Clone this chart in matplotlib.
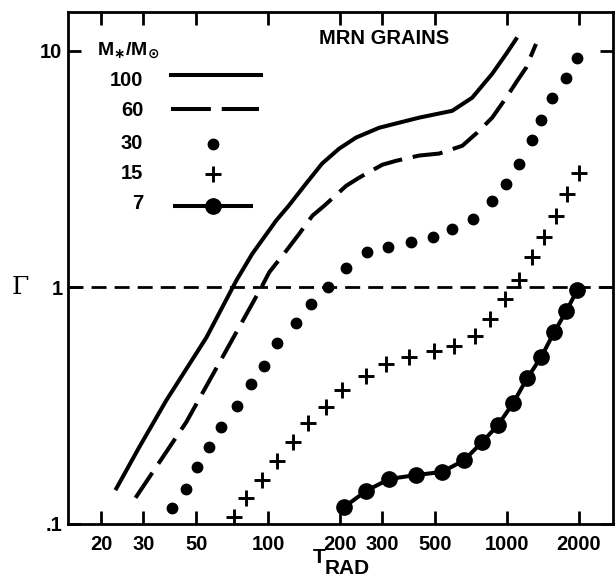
import matplotlib
matplotlib.use('Agg')
import matplotlib.pyplot as plt

# M = 100 (solid line)
t100 = [22.9, 28.8, 37.4, 55.1, 73.5, 85.8, 108, 122, 144, 168, 198, 233, 291,
        353, 428, 589, 714, 866, 991, 1102]
g100 = [0.139, 0.211, 0.333, 0.615, 1.07, 1.39, 1.92, 2.22, 2.75, 3.34, 3.86, 4.30,
        4.73, 4.97, 5.22, 5.58, 6.34, 8.0, 9.71, 11.4]

# M = 60 (long dashes)
t60 = [27.8, 45.4, 93.5, 101, 119, 135, 153, 172, 212, 240, 300, 343, 428, 519,
       649, 749, 866, 991, 1102, 1200, 1321]
g60 = [0.129, 0.27, 1.0, 1.16, 1.43, 1.69, 2.01, 2.22, 2.69, 2.91, 3.30, 3.43,
       3.61, 3.68, 3.97, 4.51, 5.22, 6.34, 7.47, 8.48, 10.7]

# M = 30 (dots)
t30 = [39.6, 45.4, 50.5, 56.6, 63.5, 74.1, 84.9, 96.2, 109, 130, 151, 178, 212,
       259, 318, 397, 490, 588, 721, 866, 991, 1122, 1273, 1388, 1542, 1766, 1963]
g30 = [0.117, 0.141, 0.174, 0.211, 0.257, 0.315, 0.390, 0.464, 0.580, 0.705, 0.848,
       1.0, 1.21, 1.41, 1.48, 1.55, 1.64, 1.76, 1.95, 2.31, 2.75, 3.34, 4.21, 5.11,
       6.34, 7.69, 9.34]

# M = 15 (plus signs)
t15 = [72.1, 80.9, 94.4, 109, 127, 146, 175, 204, 257, 312, 389, 495, 600, 735,
       849, 981, 1122, 1273, 1429, 1603, 1783, 2000]
g15 = [0.107, 0.129, 0.153, 0.184, 0.222, 0.267, 0.312, 0.367, 0.421, 0.473, 0.507,
       0.537, 0.564, 0.621, 0.733, 0.890, 1.08, 1.34, 1.64, 2.01, 2.49, 3.06]

# M = 7 (big dots joined by a line)
t7 = [208, 257, 321, 416, 534, 661, 786, 916, 1059, 1213, 1388, 1573, 1766, 1963]
g7 = [0.118, 0.138, 0.155, 0.161, 0.166, 0.186, 0.222, 0.262, 0.324, 0.413, 0.507,
      0.646, 0.792, 0.971]

xticks = [20, 30, 50, 100, 200, 300, 500, 1000, 2000]
yticks = [0.1, 1, 10]
ylabels = ['.1', '1', '10']
legend_masses = ['100', '60', '30', '15', '7']

plt.rcParams['font.family'] = ['Liberation Sans', 'DejaVu Sans']
plt.rcParams['font.weight'] = 'bold'

LW = 2.9
DASH = (7.5, 2.7)

fig = plt.figure(figsize=(6.16, 5.85), dpi=100)
ax = fig.add_axes([0.1104, 0.1043, 0.8847, 0.8752])

ax.plot(t100, g100, color='black', lw=LW, solid_capstyle='butt')
ax.plot(t60, g60, color='black', lw=LW, dashes=DASH)
ax.plot(t30, g30, 'o', color='black', ms=7.5, ls='none')
ax.plot(t15, g15, '+', color='black', ms=11.5, mew=2.1, ls='none')
ax.plot(t7, g7, 'o-', color='black', ms=11, lw=LW)
ax.axhline(1, color='black', lw=2.0, dashes=(5.4, 2.9))

ax.set_xscale('log')
ax.set_yscale('log')
ax.set_xlim(14.5, 2775)
ax.set_ylim(0.1, 14.6)
ax.minorticks_off()
ax.set_xticks(xticks)
ax.set_xticklabels([str(v) for v in xticks])
ax.set_yticks(yticks)
ax.set_yticklabels(ylabels)
ax.tick_params(direction='in', length=9.5, width=2.0, top=True, right=True,
               labelsize=14.5)
ax.tick_params(axis='y', pad=4)
ax.tick_params(axis='x', pad=8)
for s in ax.spines.values():
    s.set_linewidth(2.0)

# axis titles
fig.text(0.033, 0.508, u'\u0393', family='DejaVu Serif', fontweight='normal',
         fontsize=18, ha='center', va='center')
fig.text(0.528, 0.038, 'T', fontsize=15, ha='right', va='baseline')
fig.text(0.527, 0.018, 'RAD', fontsize=15, ha='left', va='baseline')

# legend drawn inside the axes
ax.text(0.053, 0.924, r'M$_{\ast}$/M$_{\odot}$', transform=ax.transAxes,
        fontsize=14, ha='left', va='center')
ax.text(0.46, 0.949, 'MRN GRAINS', transform=ax.transAxes, fontsize=14.5,
        ha='left', va='center')
rows = [0.867, 0.807, 0.744, 0.684, 0.625]
for lab, yy in zip(legend_masses, rows):
    ax.text(0.138, yy, lab, transform=ax.transAxes, fontsize=14.5,
            ha='right', va='center')
ax.plot([0.189, 0.354], [0.876] * 2, color='black', lw=LW,
        transform=ax.transAxes)
ax.plot([0.189, 0.351], [0.810] * 2, color='black', lw=LW,
        dashes=(9.9, 2.7), transform=ax.transAxes)
ax.plot([0.266], [0.742], 'o', color='black', ms=7.5, transform=ax.transAxes)
ax.plot([0.266], [0.684], '+', color='black', ms=11.5, mew=2.1,
        transform=ax.transAxes)
ax.plot([0.196, 0.336], [0.621] * 2, color='black', lw=LW,
        transform=ax.transAxes)
ax.plot([0.266], [0.621], 'o', color='black', ms=11, transform=ax.transAxes)

fig.savefig('out.png', dpi=100)
